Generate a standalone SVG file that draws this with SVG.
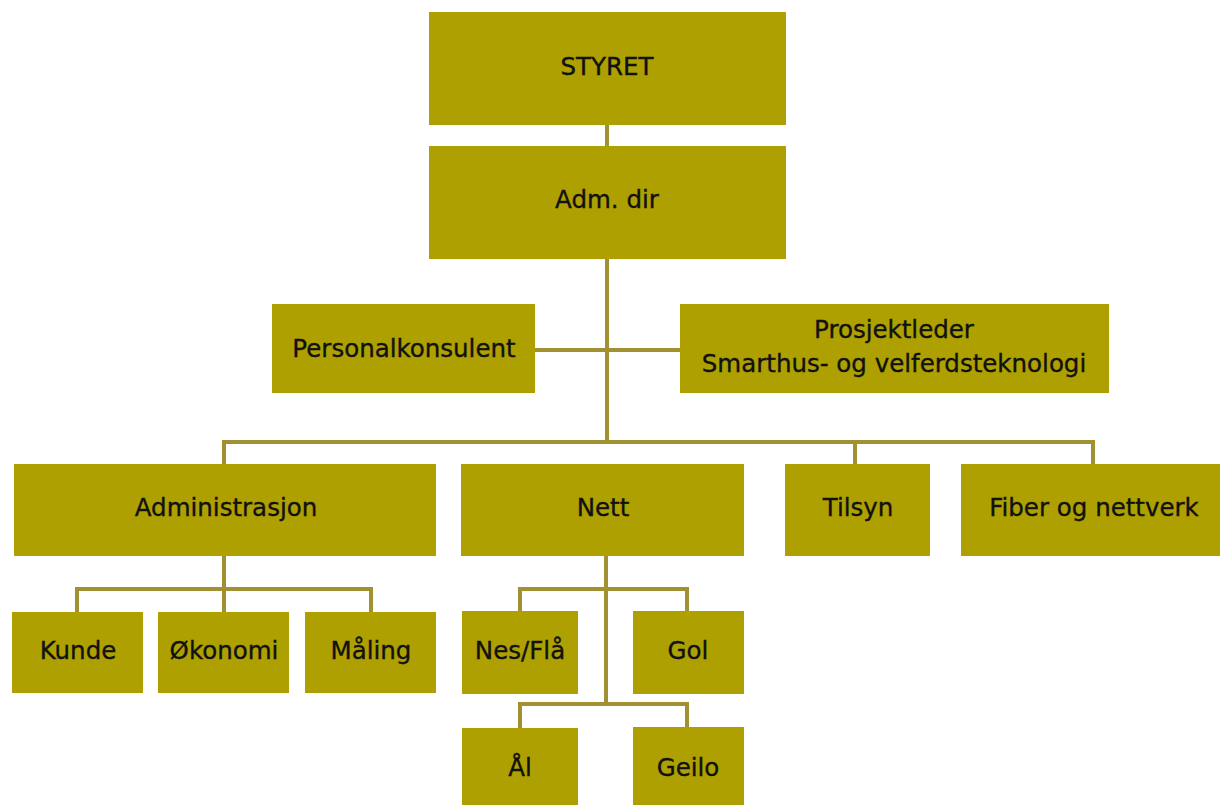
<svg xmlns="http://www.w3.org/2000/svg" width="1220" height="805" viewBox="0 0 1220 805">
<style>
.box{fill:#ADA000}
.lbl{font-family:"DejaVu Sans",sans-serif;font-size:24.5px;fill:#111;stroke:#111;stroke-width:0.35px;text-anchor:middle}
.ln{stroke:#A19130;stroke-width:4;fill:none}
</style>
<rect width="1220" height="805" fill="#fff"/>
<g id="connectors">
<path class="ln" d="M607 124V146"/>
<path class="ln" d="M607 259V442"/>
<path class="ln" d="M535 350H680"/>
<path class="ln" d="M224 464V442H1093V464"/>
<path class="ln" d="M855 442V464"/>
<path class="ln" d="M224 556V589"/>
<path class="ln" d="M77 612V589H371V612"/>
<path class="ln" d="M224 589V612"/>
<path class="ln" d="M606 556V704"/>
<path class="ln" d="M520 611V589H687V611"/>
<path class="ln" d="M520 728V704H687V728"/>
</g>
<g id="styret"><rect class="box" x="429" y="12" width="357" height="113"/><text class="lbl" x="607" y="75">STYRET</text></g>
<g id="admdir"><rect class="box" x="429" y="146" width="357" height="113"/><text class="lbl" x="607" y="208">Adm. dir</text></g>
<g id="personalkonsulent"><rect class="box" x="272" y="304" width="263" height="89"/><text class="lbl" x="404" y="357">Personalkonsulent</text></g>
<g id="prosjektleder"><rect class="box" x="680" y="304" width="429" height="89"/><text class="lbl" x="894" y="338">Prosjektleder</text><text class="lbl" x="894" y="372">Smarthus- og velferdsteknologi</text></g>
<g id="administrasjon"><rect class="box" x="14" y="464" width="422" height="92"/><text class="lbl" x="226" y="516">Administrasjon</text></g>
<g id="nett"><rect class="box" x="461" y="464" width="283" height="92"/><text class="lbl" x="603" y="516">Nett</text></g>
<g id="tilsyn"><rect class="box" x="785" y="464" width="145" height="92"/><text class="lbl" x="858" y="516">Tilsyn</text></g>
<g id="fiber"><rect class="box" x="961" y="464" width="259" height="92"/><text class="lbl" x="1094" y="516">Fiber og nettverk</text></g>
<g id="kunde"><rect class="box" x="12" y="612" width="131" height="81"/><text class="lbl" x="78" y="659">Kunde</text></g>
<g id="okonomi"><rect class="box" x="158" y="612" width="131" height="81"/><text class="lbl" x="224" y="659">Økonomi</text></g>
<g id="maling"><rect class="box" x="305" y="612" width="131" height="81"/><text class="lbl" x="371" y="659">Måling</text></g>
<g id="nesfla"><rect class="box" x="462" y="611" width="116" height="83"/><text class="lbl" x="520" y="659">Nes/Flå</text></g>
<g id="gol"><rect class="box" x="633" y="611" width="111" height="83"/><text class="lbl" x="688" y="659">Gol</text></g>
<g id="al"><rect class="box" x="462" y="728" width="116" height="77"/><text class="lbl" x="520" y="776">Ål</text></g>
<g id="geilo"><rect class="box" x="633" y="727" width="111" height="78"/><text class="lbl" x="688" y="776">Geilo</text></g>
</svg>
